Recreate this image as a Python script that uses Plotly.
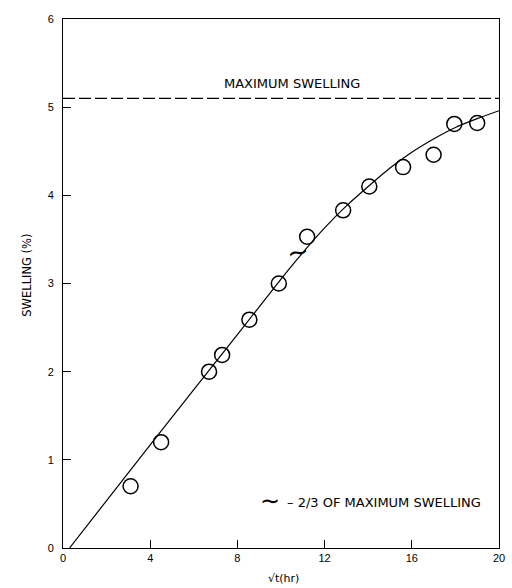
import plotly.graph_objects as go

# measured data points
pts_x = [3.1, 4.5, 6.7, 7.3, 8.55, 9.9, 11.2, 12.85, 14.05, 15.6, 17.0, 17.95, 19.0]
pts_y = [0.70, 1.20, 2.00, 2.19, 2.59, 3.00, 3.53, 3.83, 4.10, 4.32, 4.46, 4.81, 4.82]

# fitted curve
curve_x = [0.3, 4.0, 8.0, 10.0, 11.0, 12.0, 13.0, 14.0, 15.0, 16.0, 17.0, 18.0, 19.0, 20.0]
curve_y = [0.0, 1.17, 2.42, 3.05, 3.35, 3.63, 3.88, 4.10, 4.31, 4.49, 4.64, 4.77, 4.87, 4.96]

max_swelling = 5.1
x_ticks = [0, 4, 8, 12, 16, 20]
y_ticks = [0, 1, 2, 3, 4, 5, 6]

FONT = "Liberation Sans, Arial, sans-serif"
WFONT = "DejaVu Sans, sans-serif"

fig = go.Figure()
fig.add_trace(go.Scatter(x=curve_x, y=curve_y, mode="lines",
                         line=dict(color="black", width=1.2, shape="spline", smoothing=0.6),
                         hoverinfo="skip", showlegend=False))
fig.add_trace(go.Scatter(x=[0, 20], y=[max_swelling, max_swelling], mode="lines",
                         line=dict(color="black", width=1.3, dash="12px,4px"),
                         showlegend=False))
fig.add_trace(go.Scatter(x=pts_x, y=pts_y, mode="markers",
                         marker=dict(symbol="circle-open", size=15, color="black",
                                     line=dict(width=1.5, color="black")),
                         showlegend=False))

fig.add_annotation(x=10.5, y=5.27, text="MAXIMUM SWELLING", showarrow=False,
                   font=dict(family=WFONT, size=13, color="black"))
fig.add_annotation(x=10.8, y=3.36, text="∼", showarrow=False, textangle=-10,
                   font=dict(family=WFONT, size=26, color="black"))
fig.add_annotation(x=8.95, y=0.53, text="∼", showarrow=False, xanchor="left",
                   font=dict(family=WFONT, size=24, color="black"))
fig.add_annotation(x=10.2, y=0.52, text="– 2/3 OF MAXIMUM SWELLING", showarrow=False,
                   xanchor="left", font=dict(family=WFONT, size=13, color="black"))

# axis titles placed as annotations (paper coords)
fig.add_annotation(xref="paper", yref="paper", x=-0.104, y=0.516,
                   text="SWELLING (%)", showarrow=False, textangle=-90,
                   font=dict(family=WFONT, size=11.5, color="black"))
fig.add_annotation(xref="paper", yref="paper", x=0.505, y=-0.057, yanchor="middle",
                   text="√t(hr)", showarrow=False,
                   font=dict(family=WFONT, size=11, color="black"))

fig.update_layout(
    width=512, height=588,
    margin=dict(l=63, r=7, t=19, b=40),
    paper_bgcolor="white", plot_bgcolor="white",
    font=dict(family=FONT, color="black", size=10),
)
fig.update_xaxes(range=[0, 20], tickvals=x_ticks, ticks="inside", ticklen=8,
                 tickcolor="black", showgrid=False, zeroline=False,
                 showline=True, linecolor="black", linewidth=1, mirror=True,
                 tickfont=dict(size=11, family=FONT, color="black"))
fig.update_yaxes(range=[0, 6], tickvals=y_ticks, ticks="inside", ticklen=8,
                 tickcolor="black", showgrid=False, zeroline=False,
                 showline=True, linecolor="black", linewidth=1, mirror=True,
                 tickfont=dict(size=11, family=FONT, color="black"), ticklabelstandoff=6)

fig.write_html("out.html")
